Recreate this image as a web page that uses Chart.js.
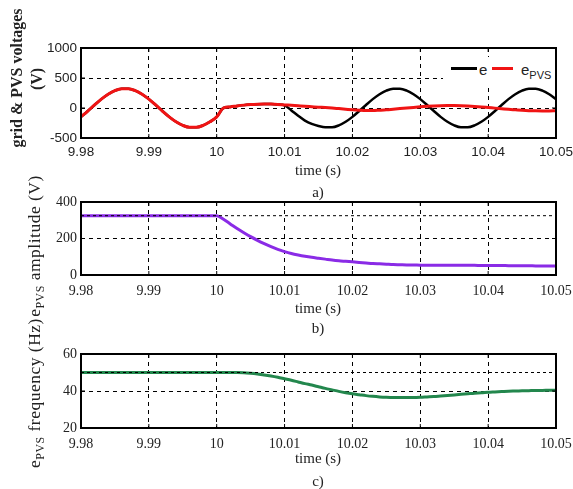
<!DOCTYPE html>
<html><head><meta charset="utf-8">
<script src="https://cdn.jsdelivr.net/npm/chart.js@4"></script>
<style>
html,body{margin:0;padding:0;background:#fff;}
body{width:573px;height:489px;position:relative;overflow:hidden;}
canvas{position:absolute;left:0;}
.lbl{position:absolute;white-space:nowrap;transform:translate(-50%,-50%);font-family:'Liberation Serif','Times New Roman',serif;color:#222;line-height:1;}
.rot{transform:translate(-50%,-50%) rotate(-90deg);}
.lbl sub{font-size:0.68em;vertical-align:-0.3em;line-height:0;}
.wide{font-size:17.5px;letter-spacing:0.5px;}
#legend{position:absolute;left:443px;top:57px;width:112px;height:28px;background:#fff;font-family:'Liberation Sans',Arial,sans-serif;color:#222;}
#legend .ln{position:absolute;height:3px;top:10px;}
#legend .tx{position:absolute;font-size:15px;line-height:1;top:5px;}
#legend .tx sub{font-size:11px;vertical-align:-4px;line-height:0;}
</style></head><body>
<canvas id="cA" width="573" height="165" style="top:0px"></canvas>
<canvas id="cB" width="573" height="140" style="top:165px"></canvas>
<canvas id="cC" width="573" height="130" style="top:330px"></canvas>

<div class="lbl rot" style="left:17px;top:78px;font-size:16px;font-weight:bold;">grid &amp; PVS voltages</div>
<div class="lbl rot" style="left:37px;top:79px;font-size:16px;font-weight:bold;">(V)</div>
<div class="lbl rot wide" style="left:35px;top:246px;">e<sub>PVS</sub> amplitude (V)</div>
<div class="lbl rot wide" style="left:35px;top:393px;">e<sub>PVS</sub> frequency (Hz)</div>

<div class="lbl" style="left:318px;top:170px;font-size:15px;">time (s)</div>
<div class="lbl" style="left:318px;top:192px;font-size:15px;">a)</div>
<div class="lbl" style="left:318px;top:308px;font-size:15px;">time (s)</div>
<div class="lbl" style="left:318px;top:328px;font-size:15px;">b)</div>
<div class="lbl" style="left:318px;top:458px;font-size:15px;">time (s)</div>
<div class="lbl" style="left:318px;top:481px;font-size:15px;">c)</div>

<div id="legend">
  <div class="ln" style="left:8px;width:26px;background:#000;"></div>
  <div class="tx" style="left:36px;">e</div>
  <div class="ln" style="left:49px;width:21px;background:#f01414;"></div>
  <div class="tx" style="left:78px;">e<sub>PVS</sub></div>
</div>

<script>
// ---- data ----
const time = [9.980,9.981,9.982,9.983,9.984,9.985,9.986,9.987,9.988,9.989,
  9.990,9.991,9.992,9.993,9.994,9.995,9.996,9.997,9.998,9.999,
  10.000,10.001,10.002,10.003,10.004,10.005,10.006,10.007,10.008,10.009,
  10.010,10.011,10.012,10.013,10.014,10.015,10.016,10.017,10.018,10.019,
  10.020,10.021,10.022,10.023,10.024,10.025,10.026,10.027,10.028,10.029,
  10.030,10.031,10.032,10.033,10.034,10.035,10.036,10.037,10.038,10.039,
  10.040,10.041,10.042,10.043,10.044,10.045,10.046,10.047,10.048,10.049,10.050];

const eGrid = [-148,-51,51,148,230,290,321,321,290,230,
  148,51,-51,-148,-230,-290,-321,-321,-290,-230,
  -148,0,18,35,48,57,63,66,65,60,
  45,-40,-130,-210,-265,-300,-321,-321,-290,-230,
  -148,-51,51,148,230,290,321,321,290,230,
  148,51,-51,-148,-230,-290,-321,-321,-290,-230,
  -148,-51,51,148,230,290,321,321,290,230,148];

const ePVS = [-148,-51,51,148,230,290,321,321,290,230,
  148,51,-51,-148,-230,-290,-321,-321,-290,-230,
  -148,0,18,35,48,57,63,66,65,60,
  52,44,36,28,21,14,8,0,-10,-20,
  -30,-38,-43,-43,-37,-30,-20,-10,0,10,
  20,28,34,38,40,40,38,33,26,18,
  8,-2,-12,-22,-30,-38,-44,-47,-48,-48,-47];

const amplitude = [325,325,325,325,325,325,325,325,325,325,
  325,325,325,325,325,325,325,325,325,325,
  325,305,280,255,232,210,190,172,155,140,
  128,118,110,103,97,92,87,82,78,75,
  72,69,66,63,61,59,57,56,55,55,
  54,54,54,53,53,53,53,53,53,52,
  52,52,52,51,51,51,51,50,50,50,50];

const frequency = [50,50,50,50,50,50,50,50,50,50,
  50,50,50,50,50,50,50,50,50,50,
  50,50,50,50,49.9,49.6,49.2,48.7,48.1,47.4,
  46.6,45.8,44.9,44.0,43.2,42.3,41.4,40.6,39.8,39.1,
  38.5,38.0,37.5,37.1,36.8,36.6,36.5,36.5,36.5,36.5,
  36.6,36.8,37.0,37.3,37.6,37.9,38.2,38.5,38.8,39.0,
  39.3,39.5,39.7,39.9,40.0,40.1,40.2,40.3,40.3,40.4,40.4];

const ampRef = [325, 325];
const freqRef = [50, 50];

const xTickValues = [9.98,9.99,10.00,10.01,10.02,10.03,10.04,10.05];
const xTickLabels = ['9.98','9.99','10','10.01','10.02','10.03','10.04','10.05'];
const yTickValuesA = [-500,0,500,1000];
const yTickLabelsA = ['-500','0','500','1000'];
const yTickValuesB = [0,200,400];
const yTickLabelsB = ['0','200','400'];
const yTickValuesC = [20,40,60];
const yTickLabelsC = ['20','40','60'];

// ---- helpers ----
const pts = (arr) => arr.map((v, i) => ({x: time[i], y: v}));
const refPts = (arr) => [{x: time[0], y: arr[0]}, {x: time[time.length-1], y: arr[1]}];

const framePlugin = {
  id: 'frame',
  afterDatasetsDraw(chart) {
    const {ctx, chartArea: a, scales: {x, y}} = chart;
    ctx.save();
    ctx.setLineDash([]);
    ctx.strokeStyle = '#000';
    ctx.lineWidth = 2;
    ctx.strokeRect(a.left, a.top, a.right - a.left, a.bottom - a.top);
    ctx.lineWidth = 1;
    ctx.beginPath();
    x.ticks.forEach(t => {
      const px = x.getPixelForValue(t.value);
      ctx.moveTo(px, a.bottom); ctx.lineTo(px, a.bottom - 4);
      ctx.moveTo(px, a.top); ctx.lineTo(px, a.top + 4);
    });
    y.ticks.forEach(t => {
      const py = y.getPixelForValue(t.value);
      ctx.moveTo(a.left, py); ctx.lineTo(a.left + 4, py);
      ctx.moveTo(a.right, py); ctx.lineTo(a.right - 4, py);
    });
    ctx.stroke();
    ctx.restore();
  }
};

function makeChart(id, datasets, yVals, yLabels, yMin, yMax, padTop, xH, font, xPad) {
  const yAxisWidth = 81;
  return new Chart(document.getElementById(id), {
    type: 'line',
    data: {datasets},
    options: {
      responsive: false,
      animation: false,
      events: [],
      layout: {padding: {top: padTop, right: 17, left: 0, bottom: 0}},
      plugins: {legend: {display: false}, tooltip: {enabled: false}},
      elements: {point: {radius: 0}, line: {cubicInterpolationMode: 'monotone'}},
      scales: {
        x: {
          type: 'linear', min: 9.98, max: 10.05,
          afterBuildTicks: s => { s.ticks = xTickValues.map(v => ({value: v})); },
          afterFit: s => { s.height = xH; s.paddingLeft = 0; s.paddingRight = 0; },
          ticks: {autoSkip: false, maxRotation: 0, padding: xPad, color: '#222', font: font,
                  callback: (v, i) => xTickLabels[i]},
          grid: {color: '#000', lineWidth: 1, drawTicks: false},
          border: {display: false, dash: [4, 4]}
        },
        y: {
          type: 'linear', min: yMin, max: yMax,
          afterBuildTicks: s => { s.ticks = yVals.map(v => ({value: v})); },
          afterFit: s => { s.width = yAxisWidth; s.paddingTop = 0; s.paddingBottom = 0; },
          ticks: {autoSkip: false, padding: 4, color: '#222', font: font,
                  callback: (v, i) => yLabels[i]},
          grid: {color: '#000', lineWidth: 1, drawTicks: false},
          border: {display: false, dash: [4, 4]}
        }
      }
    },
    plugins: [framePlugin]
  });
}

const sansFont = {family: "'Liberation Sans', Arial, sans-serif", size: 13.5};
const serifFont = {family: "'Liberation Serif', 'Times New Roman', serif", size: 14};

makeChart('cA', [
  {label: 'e_PVS', data: pts(ePVS), borderColor: '#f01414', borderWidth: 3, order: 0},
  {label: 'e', data: pts(eGrid), borderColor: '#000000', borderWidth: 2.5, order: 1}
], yTickValuesA, yTickLabelsA, -500, 1000, 48, 27, sansFont, 6);

makeChart('cB', [
  {label: 'ref', data: refPts(ampRef), borderColor: '#000', borderWidth: 1, borderDash: [3, 3], order: 0, cubicInterpolationMode: 'default', tension: 0},
  {label: 'amplitude', data: pts(amplitude), borderColor: '#8a2be6', borderWidth: 3, order: 1}
], yTickValuesB, yTickLabelsB, 0, 400, 37, 30, serifFont, 8);

makeChart('cC', [
  {label: 'ref', data: refPts(freqRef), borderColor: '#000', borderWidth: 1, borderDash: [3, 3], order: 0, cubicInterpolationMode: 'default', tension: 0},
  {label: 'frequency', data: pts(frequency), borderColor: '#23874d', borderWidth: 3, order: 1}
], yTickValuesC, yTickLabelsC, 20, 60, 24, 32, serifFont, 8);
</script>
</body></html>
